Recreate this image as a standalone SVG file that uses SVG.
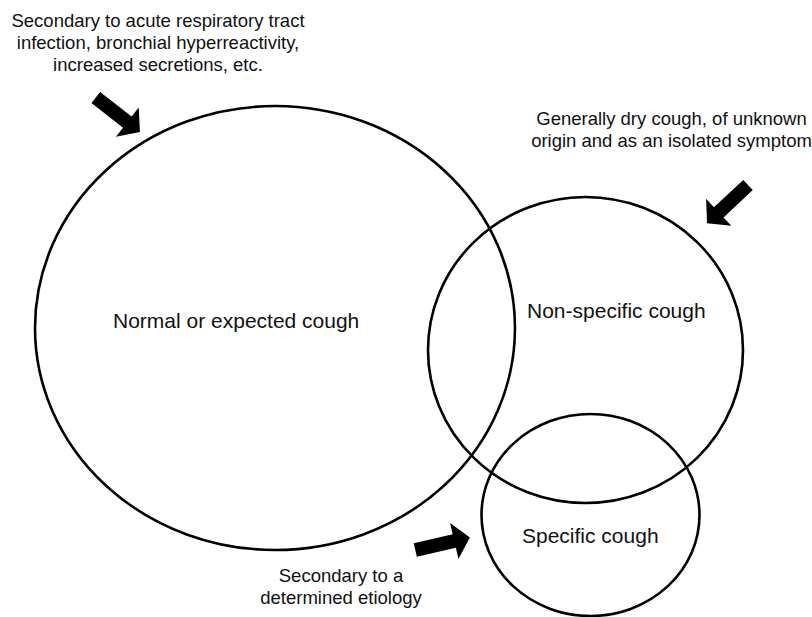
<svg xmlns="http://www.w3.org/2000/svg" width="812" height="617" viewBox="0 0 812 617">
<style>
.c{fill:none;stroke:#000;stroke-width:2.6}
.lbl{font-family:"Liberation Sans",Arial,sans-serif;font-size:21px;fill:#111}
.ann{font-family:"Liberation Sans",Arial,sans-serif;font-size:18.5px;fill:#111;text-anchor:middle}
.arr{fill:#000}
</style>
<defs>
<path id="blk" d="M0,-7 H40 V-18.5 L56,0 L40,18.5 V7 H0 Z"/>
</defs>
<rect width="812" height="617" fill="#fff"/>
<g id="normal">
<ellipse class="c" cx="275" cy="328" rx="240" ry="222"/>
<text class="lbl" x="113" y="328">Normal or expected cough</text>
</g>
<g id="nonspecific">
<ellipse class="c" cx="585.5" cy="350" rx="157.5" ry="153"/>
<text class="lbl" x="527" y="318">Non-specific cough</text>
</g>
<g id="specific">
<ellipse class="c" cx="590.5" cy="515" rx="109" ry="101"/>
<text class="lbl" x="522" y="543">Specific cough</text>
</g>
<g id="note-normal">
<text class="ann" x="158" y="27">Secondary to acute respiratory tract</text>
<text class="ann" x="158" y="49">infection, bronchial hyperreactivity,</text>
<text class="ann" x="158" y="71">increased secretions, etc.</text>
</g>
<g id="note-nonspecific">
<text class="ann" x="671.5" y="125">Generally dry cough, of unknown</text>
<text class="ann" x="671.5" y="147">origin and as an isolated symptom</text>
</g>
<g id="note-specific">
<text class="ann" x="341" y="582">Secondary to a</text>
<text class="ann" x="341" y="604">determined etiology</text>
</g>
<g id="connectors">
<use href="#blk" class="arr" transform="translate(95.8,97.5) rotate(38)"/>
<use href="#blk" class="arr" transform="translate(748,185) rotate(137)"/>
<use href="#blk" class="arr" transform="translate(415.3,550) rotate(-13)"/>
</g>
</svg>
